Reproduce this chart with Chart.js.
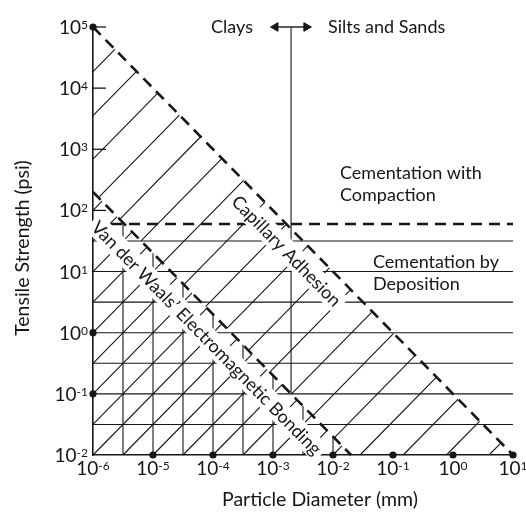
<!DOCTYPE html>
<html>
<head>
<meta charset="utf-8">
<script src="https://cdn.jsdelivr.net/npm/chart.js@4.4.1/dist/chart.umd.min.js"></script>
<style>
  html, body { margin: 0; padding: 0; background: #fff; }
  #wrap { width: 526px; height: 517px; }
</style>
</head>
<body>
<div id="wrap"><canvas id="bondChart"></canvas></div>
<script>
// axis extents: particle diameter (mm) and tensile strength (psi)
const xRange = [1e-6, 10];
const yRange = [1e-2, 1e5];
const xDecades = [-6, -5, -4, -3, -2, -1, 0, 1];
const yDecades = [5, 4, 3, 2, 1, 0, -1, -2];

// bounding lines of the two bonding bands, [diameter, strength] end points
const capillaryLimit = [[1e-6, 1e5], [10, 1e-2]];
const vanDerWaalsLimit = [[1e-6, 200], [0.02, 1e-2]];
const compactionLevel = 60;          // psi, cementation with compaction
const claySiltBoundary = 0.002;      // mm
const boundaryArrow = [0.0011, 0.0036];

// cementation-by-deposition rules and the grid under the Van der Waals band
const strengthRules = [31.6, 10, 3.16, 1, 0.316, 0.1, 0.0316];
const diameterRules = [3.16e-6, 1e-5, 3.16e-5, 1e-4, 3.16e-4, 1e-3, 3.16e-3, 1e-2];

// hatch strokes, as log10(strength) - log10(diameter)
const capillaryHatch = [10.27, 9.55, 8.84, 8.12, 7.41, 6.7, 5.98, 5.27, 4.55, 3.84,
                        3.12, 2.41, 1.69, 0.98, 0.26, -0.45, -1.17, -1.89, -2.6];
const vdwHatch = [0, 0.5, 1, 1.5, 2, 2.5, 3, 3.5, 4, 4.5, 5, 5.5, 6, 6.5, 7, 7.5, 8];

// marked points on the axes
const yAxisDots = [1e5, 1, 0.1];
const xAxisDots = [1e-5, 1e-4, 1e-3, 1e-2, 0.1, 1, 10];
const yTickMarks = [1e5, 1e4, 1e3, 100];

const ink = '#161616';
const lg = Math.log10;
const lx0 = lg(xRange[0]), lx1 = lg(xRange[1]);
const ly0 = lg(yRange[0]), ly1 = lg(yRange[1]);
// each limit line is log x + log y = const
const capSum = lg(capillaryLimit[0][0] * capillaryLimit[0][1]);
const vdwSum = lg(vanDerWaalsLimit[0][0] * vanDerWaalsLimit[0][1]);

const gap = x => ({ x: x, y: null });

function hatch(offsets, lo, hi) {
  const pts = [];
  offsets.forEach(c => {
    const t0 = Math.max(lx0, ly0 - c, (lo - c) / 2);
    const t1 = Math.min(lx1, ly1 - c, (hi - c) / 2);
    if (t1 <= t0) return;
    pts.push({ x: 10 ** t0, y: 10 ** (t0 + c) }, { x: 10 ** t1, y: 10 ** (t1 + c) }, gap(10 ** t1));
  });
  return pts;
}

const rulePoints = [];
strengthRules.forEach(v => rulePoints.push({ x: xRange[0], y: v }, { x: xRange[1], y: v }, gap(xRange[1])));
diameterRules.forEach(d => rulePoints.push({ x: d, y: yRange[0] }, { x: d, y: 10 ** (vdwSum - lg(d)) }, gap(d)));

const thin = { showLine: true, pointRadius: 0, borderColor: ink, borderWidth: 1.1, spanGaps: false, clip: false };
const dashed = { showLine: true, pointRadius: 0, borderColor: ink, borderWidth: 2.6, borderDash: [11, 7], clip: false };

const datasets = [
  Object.assign({ data: hatch(capillaryHatch, vdwSum, capSum), order: 6 }, thin),
  Object.assign({ data: hatch(vdwHatch, -Infinity, vdwSum), order: 6 }, thin),
  Object.assign({ data: rulePoints, order: 5 }, thin),
  Object.assign({ data: [{ x: claySiltBoundary, y: yRange[1] },
                         { x: claySiltBoundary, y: 10 ** (vdwSum - lg(claySiltBoundary)) }], order: 4 }, thin),
  Object.assign({ data: capillaryLimit.map(p => ({ x: p[0], y: p[1] })), order: 3 }, dashed),
  Object.assign({ data: vanDerWaalsLimit.map(p => ({ x: p[0], y: p[1] })), order: 3 }, dashed),
  Object.assign({ data: [{ x: xRange[0], y: compactionLevel }, { x: xRange[1], y: compactionLevel }], order: 3 }, dashed),
  {
    data: boundaryArrow.map(x => ({ x: x, y: yRange[1] })),
    showLine: true, borderColor: ink, borderWidth: 1.4, clip: false, order: 2,
    pointStyle: 'triangle', pointRotation: [-90, 90], pointRadius: 5,
    pointBackgroundColor: ink, pointBorderColor: ink, pointBorderWidth: 1
  },
  {
    data: yAxisDots.map(v => ({ x: xRange[0], y: v })).concat(xAxisDots.map(d => ({ x: d, y: yRange[0] }))),
    showLine: false, pointRadius: 3.6, pointBackgroundColor: ink, pointBorderWidth: 0, clip: false, order: 1
  }
];

const FONT = 'Lato, "Open Sans", sans-serif';

function power(ctx, exp, px, py, align) {
  ctx.font = '19px ' + FONT;
  const wb = ctx.measureText('10').width;
  ctx.font = '12px ' + FONT;
  const ws = ctx.measureText(String(exp)).width;
  const sx = align === 'right' ? px - wb - ws : px - (wb + ws) / 2;
  ctx.textAlign = 'left';
  ctx.textBaseline = 'alphabetic';
  ctx.font = '19px ' + FONT;
  ctx.fillText('10', sx, py);
  ctx.font = '12px ' + FONT;
  ctx.fillText(String(exp), sx + wb, py - 5);
}

function slantLabel(ctx, text, cx, cy, angle) {
  ctx.save();
  ctx.translate(cx, cy);
  ctx.rotate(angle);
  ctx.font = '18px ' + FONT;
  const w = ctx.measureText(text).width;
  ctx.fillStyle = '#fff';
  ctx.fillRect(-w / 2 - 4, -11, w + 8, 22);
  ctx.fillStyle = ink;
  ctx.textAlign = 'center';
  ctx.textBaseline = 'middle';
  ctx.fillText(text, 0, 1);
  ctx.restore();
}

const textLayer = {
  id: 'textLayer',
  afterDatasetsDraw(chart) {
    const { ctx, scales: { x, y }, chartArea } = chart;
    ctx.save();
    ctx.fillStyle = ink;
    ctx.strokeStyle = ink;

    // inward ticks on the strength axis
    ctx.lineWidth = 1.3;
    yTickMarks.forEach(v => {
      const py = y.getPixelForValue(v);
      ctx.beginPath();
      ctx.moveTo(chartArea.left, py);
      ctx.lineTo(chartArea.left + 13, py);
      ctx.stroke();
    });

    yDecades.forEach(e => power(ctx, e, chartArea.left - 5, y.getPixelForValue(10 ** e) + 7, 'right'));
    xDecades.forEach(e => power(ctx, e, x.getPixelForValue(10 ** e), chartArea.bottom + 20, 'center'));

    // labels along the limit lines
    const ang = lim => Math.atan2(y.getPixelForValue(lim[1][1]) - y.getPixelForValue(lim[0][1]),
                                  x.getPixelForValue(lim[1][0]) - x.getPixelForValue(lim[0][0]));
    slantLabel(ctx, 'Capillary Adhesion', x.getPixelForValue(0.0017), y.getPixelForValue(22), ang(capillaryLimit));
    slantLabel(ctx, 'Van der Waals\u2019 Electromagnetic Bonding',
               x.getPixelForValue(0.000079), y.getPixelForValue(0.83), ang(vanDerWaalsLimit));

    ctx.font = '18px ' + FONT;
    ctx.textBaseline = 'middle';
    ctx.textAlign = 'center';
    ctx.fillText('Clays', 232, 27);
    ctx.textAlign = 'left';
    ctx.fillText('Silts and Sands', 328, 27);
    ctx.fillText('Cementation with', 340, 173);
    ctx.fillText('Compaction', 340, 195);
    ctx.fillText('Cementation by', 373, 262);
    ctx.fillText('Deposition', 373, 284);

    // axis titles
    ctx.font = '19.5px ' + FONT;
    ctx.textAlign = 'center';
    ctx.fillText('Particle Diameter (mm)', 320, 500);
    ctx.translate(23, 248);
    ctx.rotate(-Math.PI / 2);
    ctx.fillText('Tensile Strength (psi)', 0, 0);
    ctx.restore();
  }
};

new Chart(document.getElementById('bondChart').getContext('2d'), {
  type: 'scatter',
  data: { datasets: datasets },
  options: {
    responsive: true,
    maintainAspectRatio: false,
    animation: false,
    events: [],
    layout: { padding: { left: 93, right: 13, top: 27, bottom: 62 } },
    plugins: { legend: { display: false }, tooltip: { enabled: false } },
    scales: {
      x: {
        type: 'logarithmic', min: xRange[0], max: xRange[1],
        grid: { display: false, drawTicks: false },
        ticks: { display: false },
        border: { display: true, color: ink, width: 1.6 }
      },
      y: {
        type: 'logarithmic', min: yRange[0], max: yRange[1],
        grid: { display: false, drawTicks: false },
        ticks: { display: false },
        border: { display: true, color: ink, width: 1.6 }
      }
    }
  },
  plugins: [textLayer]
});
</script>
</body>
</html>
